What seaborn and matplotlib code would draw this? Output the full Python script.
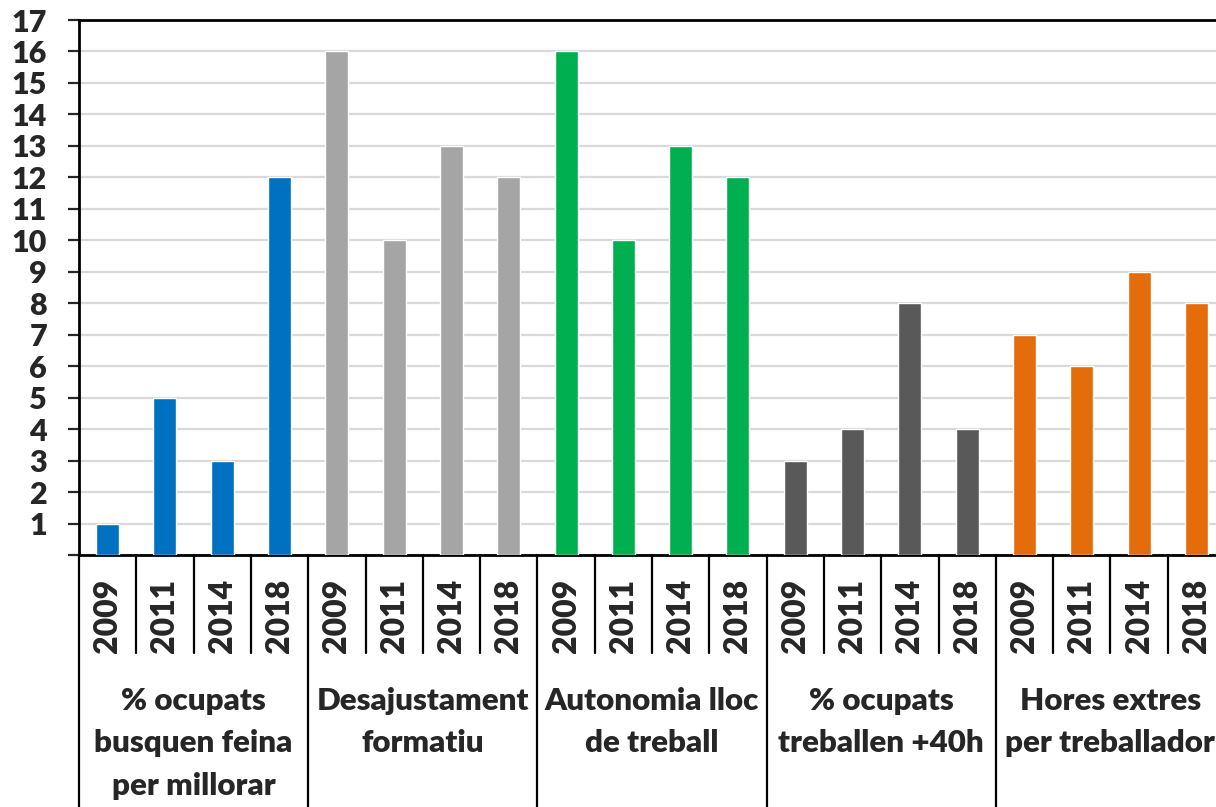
import numpy as np
import pandas as pd
import seaborn as sns
import matplotlib.pyplot as plt
import matplotlib.transforms as mtransforms

# dades del gràfic
grups = ["% ocupats\nbusquen feina\nper millorar",
         "Desajustament\nformatiu",
         "Autonomia lloc\nde treball",
         "% ocupats\ntreballen +40h",
         "Hores extres\nper treballador"]
anys = ["2009", "2011", "2014", "2018"]
v_busquen = [1, 5, 3, 12]
v_desajust = [16, 10, 13, 12]
v_autonomia = [16, 10, 13, 12]
v_40h = [3, 4, 8, 4]
v_hores = [7, 6, 9, 8]
colors = ["#0070C0", "#A5A5A5", "#00B050", "#595959", "#E46C0A"]

valors = [v_busquen, v_desajust, v_autonomia, v_40h, v_hores]
files = []
for g, vals in zip(grups, valors):
    for a, v in zip(anys, vals):
        files.append({"grup": g, "any": a, "clau": g + "|" + a, "valor": v})
df = pd.DataFrame(files)

sns.set_style("white")
plt.rcParams['font.family'] = ['Lato', 'DejaVu Sans']
pes = 'heavy'
plt.rcParams['font.weight'] = pes

fig = plt.figure(figsize=(12.16, 8.07), dpi=100)
ax = fig.add_axes([79 / 1216, (807 - 555) / 807, 1146 / 1216, 535 / 807])

sns.barplot(data=df, x="clau", y="valor", hue="grup", palette=colors,
            dodge=False, width=0.4, legend=False, ax=ax, saturation=1, zorder=3)

ax.set_ylim(0, 17)
ax.set_xlim(-0.5, len(df) - 0.5)
ax.set_yticks(range(0, 18))
ax.set_yticklabels([""] + [str(i) for i in range(1, 18)], fontsize=22, fontweight=pes)
ax.yaxis.grid(True, color="#d9d9d9", linewidth=1.6, zorder=0)
ax.set_axisbelow(True)
ax.tick_params(axis='y', length=8, width=1.6, pad=15, direction='out', left=True)
ax.set_xticks([])
ax.set_xlabel("")
ax.set_ylabel("")

for s in ["left", "bottom", "top"]:
    ax.spines[s].set_color("black")
    ax.spines[s].set_linewidth(2)
ax.spines["right"].set_visible(False)

# eix jeràrquic
trans = mtransforms.blended_transform_factory(ax.transData, ax.transAxes)
h = 535.0
n_any = len(anys)
for i, a in enumerate(df["any"]):
    ax.text(i, -61 / h, a, rotation=90, ha="center", va="center",
            fontsize=23, fontweight=pes, transform=trans, clip_on=False)
    if i % n_any != 0:
        ax.plot([i - 0.5, i - 0.5], [0, -98 / h], color="black", lw=1.6,
                transform=trans, clip_on=False)

for k, g in enumerate(grups):
    x0 = k * n_any - 0.5
    ax.plot([x0, x0], [0, -260 / h], color="black", lw=1.6,
            transform=trans, clip_on=False)
    ax.text(x0 + n_any / 2, -132 / h, g, ha="center", va="top",
            fontsize=22.5, fontweight=pes, linespacing=1.62,
            transform=trans, clip_on=False)

fig.savefig("out.png", dpi=100)
